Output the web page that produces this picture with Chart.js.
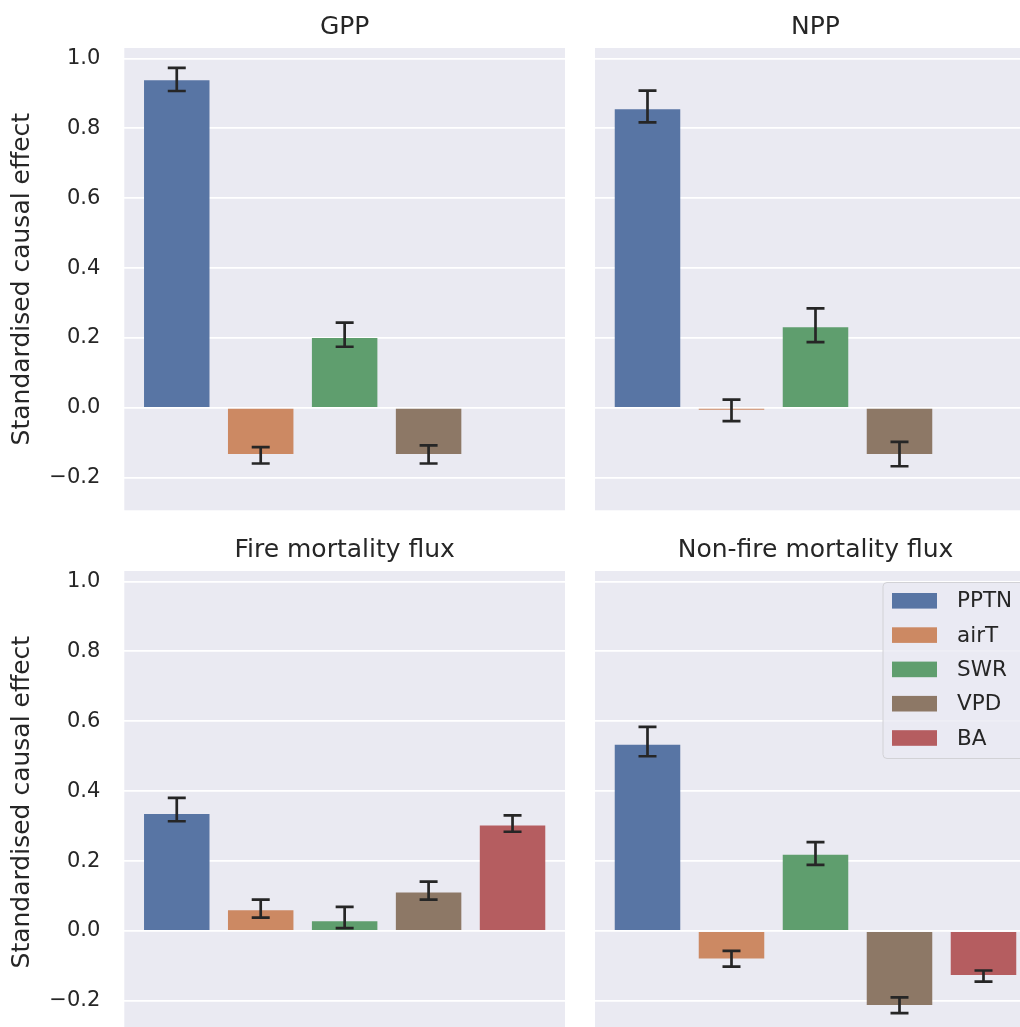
<!DOCTYPE html>
<html>
<head>
<meta charset="utf-8">
<script src="https://cdn.jsdelivr.net/npm/chart.js@4.4.1/dist/chart.umd.min.js"></script>
<style>
  html, body { margin: 0; padding: 0; background: #fff; overflow: hidden; }
  #wrap { position: relative; width: 1020px; height: 1027px; overflow: hidden; }
  canvas { position: absolute; }
</style>
</head>
<body>
<div id="wrap">
  <canvas id="gpp" width="565" height="520" style="left:0;top:0"></canvas>
  <canvas id="npp" width="441" height="520" style="left:595px;top:0"></canvas>
  <canvas id="fire" width="565" height="520" style="left:0;top:520px"></canvas>
  <canvas id="nonfire" width="441" height="520" style="left:595px;top:520px"></canvas>
</div>
<script>
// categorias y colores (seaborn deep, desaturado)
const categories = ['PPTN', 'airT', 'SWR', 'VPD', 'BA'];
const barColors = ['#5875a4', '#cc8963', '#5f9e6e', '#8d7866', '#b55d60'];
const yTicks = [-0.2, 0.0, 0.2, 0.4, 0.6, 0.8, 1.0];

// GPP (sin BA)
const gppValues = [0.938, -0.132, 0.200, -0.132];
const gppLow    = [0.907, -0.159, 0.175, -0.159];
const gppHigh   = [0.973, -0.112, 0.244, -0.107];

// NPP (sin BA)
const nppValues = [0.855, -0.005, 0.231, -0.132];
const nppLow    = [0.817, -0.038, 0.188, -0.167];
const nppHigh   = [0.908, 0.024, 0.285, -0.097];

// Fire mortality flux
const fireValues = [0.335, 0.059, 0.028, 0.110, 0.302];
const fireLow    = [0.314, 0.038, 0.008, 0.090, 0.284];
const fireHigh   = [0.381, 0.090, 0.069, 0.141, 0.331];

// Non-fire mortality flux
const nonFireValues = [0.533, -0.079, 0.218, -0.212, -0.126];
const nonFireLow    = [0.500, -0.102, 0.189, -0.235, -0.145];
const nonFireHigh   = [0.584, -0.057, 0.254, -0.190, -0.113];

const FONT = 'DejaVu Sans';
const TEXT = '#262626';

// fondo gris del área de dibujo
const panelBackground = {
    id: 'panelBackground',
    beforeDraw(chart) {
        const a = chart.chartArea;
        chart.ctx.save();
        chart.ctx.fillStyle = '#eaeaf2';
        chart.ctx.fillRect(a.left, a.top, a.right - a.left, a.bottom - a.top);
        chart.ctx.restore();
    }
};

// título del panel
const panelTitle = {
    id: 'panelTitle',
    afterDraw(chart, args, opts) {
        if (!opts.text) return;
        const a = chart.chartArea;
        const ctx = chart.ctx;
        ctx.save();
        ctx.font = `25px "${FONT}"`;
        ctx.fillStyle = TEXT;
        ctx.textAlign = 'center';
        ctx.textBaseline = 'alphabetic';
        ctx.fillText(opts.text, (a.left + a.right) / 2, a.top - 14);
        ctx.restore();
    }
};

// barras de error con los valores low / high
const errorBars = {
    id: 'errorBars',
    afterDatasetsDraw(chart, args, opts) {
        if (!opts.low) return;
        const ctx = chart.ctx;
        const xs = chart.scales.x, ys = chart.scales.y;
        ctx.save();
        ctx.strokeStyle = TEXT;
        ctx.lineWidth = 2.7;
        opts.low.forEach((lo, i) => {
            const x = xs.getPixelForValue(i);
            const y1 = ys.getPixelForValue(lo);
            const y2 = ys.getPixelForValue(opts.high[i]);
            ctx.beginPath();
            ctx.moveTo(x, y1); ctx.lineTo(x, y2);
            ctx.moveTo(x - 9, y1); ctx.lineTo(x + 9, y1);
            ctx.moveTo(x - 9, y2); ctx.lineTo(x + 9, y2);
            ctx.stroke();
        });
        ctx.restore();
    }
};

// leyenda dentro del panel (arriba a la derecha)
const boxLegend = {
    id: 'boxLegend',
    afterDraw(chart, args, opts) {
        if (!opts.show) return;
        const ctx = chart.ctx;
        const a = chart.chartArea;
        const w = 142, h = 176, r = 4;
        const bx = a.right - 11 - w, by = a.top + 11.5;
        ctx.save();
        ctx.beginPath();
        ctx.moveTo(bx + r, by);
        ctx.lineTo(bx + w - r, by); ctx.arcTo(bx + w, by, bx + w, by + r, r);
        ctx.lineTo(bx + w, by + h - r); ctx.arcTo(bx + w, by + h, bx + w - r, by + h, r);
        ctx.lineTo(bx + r, by + h); ctx.arcTo(bx, by + h, bx, by + h - r, r);
        ctx.lineTo(bx, by + r); ctx.arcTo(bx, by, bx + r, by, r);
        ctx.closePath();
        ctx.fillStyle = 'rgba(234,234,242,0.8)';
        ctx.fill();
        ctx.strokeStyle = '#d2d2d6';
        ctx.lineWidth = 1;
        ctx.stroke();
        ctx.font = `21.5px "${FONT}"`;
        ctx.textBaseline = 'middle';
        categories.forEach((c, i) => {
            const cy = by + 18.3 + i * 34.3;
            ctx.fillStyle = barColors[i];
            ctx.fillRect(bx + 9, cy - 7.8, 45, 15.6);
            ctx.fillStyle = TEXT;
            ctx.fillText(c, bx + 74, cy + 1);
        });
        ctx.restore();
    }
};

function fmtTick(v) {
    if (Math.abs(v) < 1e-9) return '0.0';
    return v < 0 ? '\u2212' + Math.abs(v).toFixed(1) : v.toFixed(1);
}

function makePanel(id, title, values, low, high, showY, showLegend, padTop, padBottom) {
    const ctx = document.getElementById(id).getContext('2d');
    return new Chart(ctx, {
        type: 'bar',
        data: {
            datasets: [{
                data: values.map((v, i) => ({ x: i, y: v })),
                backgroundColor: barColors.slice(0, values.length),
                borderWidth: 0,
                categoryPercentage: 1.0,
                barPercentage: 0.78
            }]
        },
        options: {
            responsive: false,
            animation: false,
            devicePixelRatio: 1,
            layout: { padding: { top: padTop, bottom: padBottom, left: 0, right: 0 } },
            plugins: {
                legend: { display: false },
                tooltip: { enabled: false },
                panelTitle: { text: title },
                errorBars: { low: low, high: high },
                boxLegend: { show: showLegend }
            },
            scales: {
                x: {
                    type: 'linear',
                    min: -0.625,
                    max: 4.625,
                    offset: false,
                    display: false,
                    afterBuildTicks: s => { s.ticks = categories.map((c, i) => ({ value: i })); }
                },
                y: {
                    min: -0.293,
                    max: 1.03,
                    afterBuildTicks: s => { s.ticks = yTicks.map(v => ({ value: v })); },
                    afterFit: s => {
                        s.width = showY ? 124.3 : 0;
                        s.paddingTop = 0;
                        s.paddingBottom = 0;
                    },
                    border: { display: false },
                    grid: { color: '#ffffff', lineWidth: 1.8, drawTicks: false },
                    ticks: {
                        display: showY,
                        padding: 24,
                        color: TEXT,
                        font: { family: FONT, size: 21 },
                        callback: v => fmtTick(v)
                    },
                    title: {
                        display: showY,
                        text: 'Standardised causal effect',
                        color: TEXT,
                        font: { family: FONT, size: 25, lineHeight: 1.2 },
                        padding: { top: 7, bottom: 0 }
                    }
                }
            }
        },
        plugins: [panelBackground, panelTitle, errorBars, boxLegend]
    });
}

makePanel('gpp', 'GPP', gppValues, gppLow, gppHigh, true, false, 48, 9.7);
makePanel('npp', 'NPP', nppValues, nppLow, nppHigh, false, false, 48, 9.7);
makePanel('fire', 'Fire mortality flux', fireValues, fireLow, fireHigh, true, false, 51, 6.6);
makePanel('nonfire', 'Non-fire mortality flux', nonFireValues, nonFireLow, nonFireHigh, false, true, 51, 6.6);
</script>
</body>
</html>
